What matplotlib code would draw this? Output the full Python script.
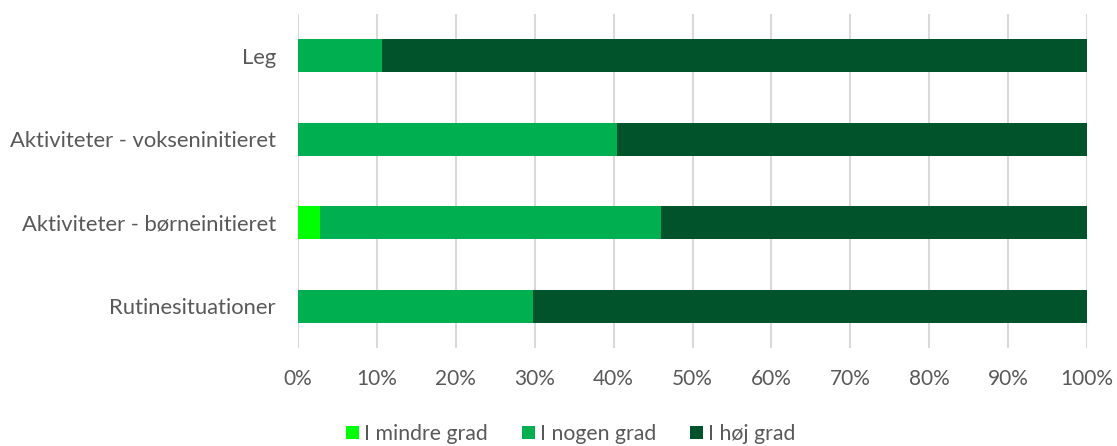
import matplotlib
matplotlib.use("Agg")
import matplotlib.pyplot as plt
import numpy as np

categories = ["Leg", "Aktiviteter - vokseninitieret", "Aktiviteter - børneinitieret", "Rutinesituationer"]
series_names = ["I mindre grad", "I nogen grad", "I høj grad"]
mindre = [0.0, 0.0, 2.75, 0.0]
nogen = [10.7, 40.4, 43.2, 29.8]
hoej = [89.3, 59.6, 54.05, 70.2]
colors = ["#00FF00", "#00B050", "#00532A"]
x_ticks = [0, 10, 20, 30, 40, 50, 60, 70, 80, 90, 100]
x_tick_labels = [f"{t}%" for t in x_ticks]

plt.rcParams['font.family'] = ['Lato', 'DejaVu Sans']
text_color = "#595959"

fig = plt.figure(figsize=(11.17, 4.46), dpi=100)
ax = fig.add_axes([298/1117, 1 - 348/446, (1087 - 298)/1117, (348 - 14)/446])

y = np.arange(len(categories))
left = np.zeros(len(categories))
for name, vals, c in zip(series_names, [mindre, nogen, hoej], colors):
    ax.barh(y, vals, left=left, height=0.4, color=c, label=name, zorder=3)
    left += np.array(vals)

ax.set_ylim(len(categories) - 0.5, -0.5)
ax.set_xlim(0, 100)
ax.set_yticks(y)
ax.set_yticklabels(categories, fontsize=15.8, color=text_color)
ax.set_xticks(x_ticks)
ax.set_xticklabels(x_tick_labels, fontsize=15, color=text_color)
ax.tick_params(axis='both', length=0)
ax.tick_params(axis='y', pad=16)
ax.tick_params(axis='x', pad=15)
ax.grid(axis='x', color="#D9D9D9", linewidth=1.5, zorder=0)
ax.set_axisbelow(True)
for s in ax.spines.values():
    s.set_visible(False)

handles, labels = ax.get_legend_handles_labels()
fig.legend(handles, labels, loc='center', bbox_to_anchor=(571/1117, 1 - 434/446),
           ncol=3, frameon=False, fontsize=15.3, labelcolor=text_color,
           handlelength=0.6, handleheight=0.6, handletextpad=0.25, columnspacing=1.6)

fig.savefig("out.png", dpi=100)
